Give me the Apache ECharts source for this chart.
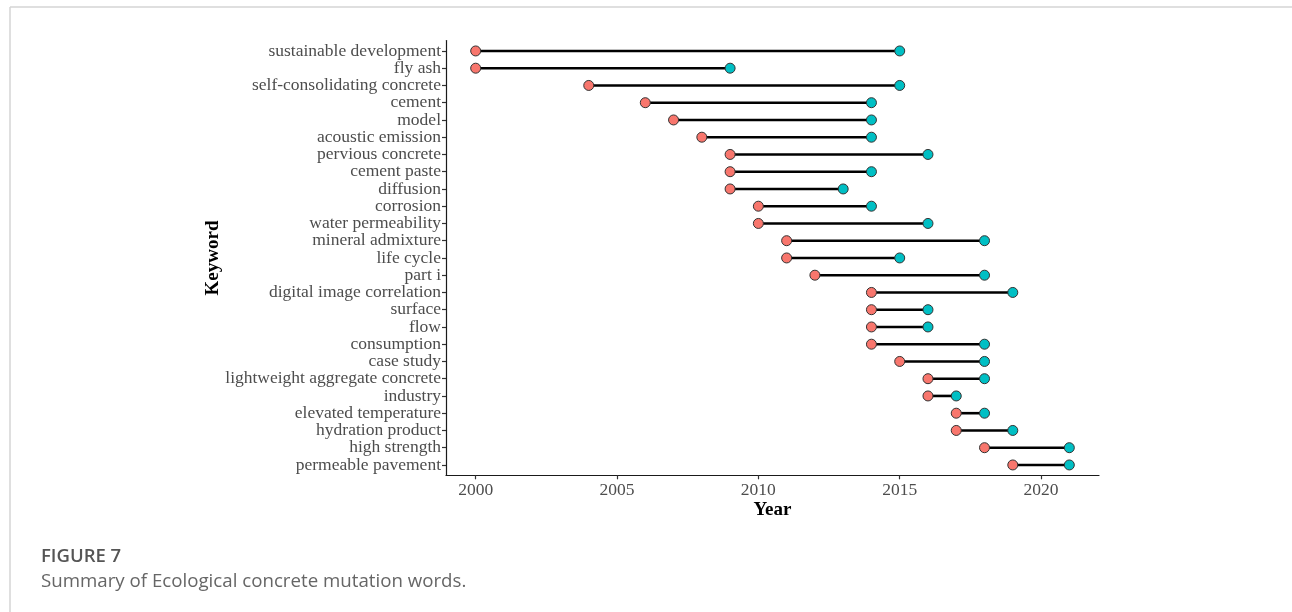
<!DOCTYPE html>
<html>
<head>
<meta charset="utf-8">
<title>Keyword burst periods</title>
<script src="https://cdn.jsdelivr.net/npm/echarts@6/dist/echarts.min.js"></script>
<style>
  html, body { margin: 0; padding: 0; background: #ffffff; }
  #chart { width: 1292px; height: 612px; }
</style>
</head>
<body>
<div id="chart"></div>
<script>
// Keywords, top to bottom
const keywords = [
  'sustainable development', 'fly ash', 'self-consolidating concrete', 'cement',
  'model', 'acoustic emission', 'pervious concrete', 'cement paste', 'diffusion',
  'corrosion', 'water permeability', 'mineral admixture', 'life cycle', 'part i',
  'digital image correlation', 'surface', 'flow', 'consumption', 'case study',
  'lightweight aggregate concrete', 'industry', 'elevated temperature',
  'hydration product', 'high strength', 'permeable pavement'
];
// First year of each burst
const beginYear = [2000, 2000, 2004, 2006, 2007, 2008, 2009, 2009, 2009, 2010, 2010, 2011, 2011,
                   2012, 2014, 2014, 2014, 2014, 2015, 2016, 2016, 2017, 2017, 2018, 2019];
// Last year of each burst
const endYear = [2015, 2009, 2015, 2014, 2014, 2014, 2016, 2014, 2013, 2014, 2016, 2018, 2015,
                 2018, 2019, 2016, 2016, 2018, 2018, 2018, 2017, 2018, 2019, 2021, 2021];
// Year ticks
const yearTicks = [2000, 2005, 2010, 2015, 2020];

const rowIdx = keywords.map((_, i) => i);
const segData = keywords.map((_, i) => [beginYear[i], endYear[i], i]);
const beginData = keywords.map((_, i) => [beginYear[i], i]);
const endData = keywords.map((_, i) => [endYear[i], i]);

const serif = '"Liberation Serif", "Times New Roman", serif';
const sans = '"Open Sans", "Noto Sans", sans-serif';

// Plot panel: rows padded by 0.6 of a row at both ends
const panelTop = 40.6, panelHeight = 434.7;
const rowStep = panelHeight / 25.2;

const chart = echarts.init(document.getElementById('chart'));
chart.setOption({
  animation: false,
  backgroundColor: '#ffffff',
  grid: [
    { left: 446, width: 653, top: panelTop, height: panelHeight, containLabel: false },
    // label band: one full row per keyword, centred on the rows above
    { left: 446, width: 653, top: panelTop + 0.1 * rowStep, height: 25 * rowStep, containLabel: false }
  ],
  xAxis: [
    {
      type: 'value',
      gridIndex: 0,
      min: 1998.95,
      max: 2022.05,
      name: 'Year',
      nameLocation: 'middle',
      nameGap: 25,
      nameMoveOverlap: false,
      nameTextStyle: { fontFamily: serif, fontWeight: 'bold', fontSize: 19, color: '#000' },
      axisLine: { show: true, onZero: false, lineStyle: { color: '#1a1a1a', width: 1.2 } },
      axisTick: { show: true, length: 4, customValues: yearTicks, lineStyle: { color: '#333', width: 1.2 } },
      axisLabel: {
        customValues: yearTicks, fontFamily: serif, fontSize: 17.5, color: '#4d4d4d', margin: 6,
        formatter: v => String(Math.round(v))
      },
      splitLine: { show: false }
    },
    {
      type: 'value', gridIndex: 1, min: 1998.95, max: 2022.05, show: false
    }
  ],
  yAxis: [
    {
      type: 'value',
      gridIndex: 0,
      inverse: true,
      min: -0.6,
      max: 24.6,
      name: 'Keyword',
      nameLocation: 'middle',
      nameGap: 223,
      nameMoveOverlap: false,
      nameRotate: 90,
      nameTextStyle: { fontFamily: serif, fontWeight: 'bold', fontSize: 19, color: '#000' },
      axisLine: { show: true, onZero: false, lineStyle: { color: '#1a1a1a', width: 1.2 } },
      axisTick: { show: true, length: 4, customValues: rowIdx, lineStyle: { color: '#333', width: 1.2 } },
      axisLabel: { show: false },
      splitLine: { show: false }
    },
    {
      type: 'category',
      gridIndex: 1,
      inverse: true,
      data: keywords,
      axisLine: { show: false },
      axisTick: { show: false },
      axisLabel: {
        interval: 0, fontFamily: serif, fontSize: 17.5, color: '#4d4d4d', margin: 5
      },
      splitLine: { show: false }
    }
  ],
  series: [
    {
      type: 'custom',
      xAxisIndex: 0, yAxisIndex: 0,
      data: segData,
      encode: { x: [0, 1], y: 2 },
      renderItem: (params, api) => {
        const a = api.coord([api.value(0), api.value(2)]);
        const b = api.coord([api.value(1), api.value(2)]);
        return {
          type: 'line',
          shape: { x1: a[0], y1: a[1], x2: b[0], y2: b[1] },
          style: { stroke: '#000000', lineWidth: 2.6 }
        };
      },
      z: 1
    },
    {
      type: 'scatter',
      xAxisIndex: 0, yAxisIndex: 0,
      data: beginData,
      symbol: 'circle',
      symbolSize: 10,
      itemStyle: { color: '#F8766D', borderColor: '#333333', borderWidth: 1, opacity: 1 },
      z: 2
    },
    {
      type: 'scatter',
      xAxisIndex: 0, yAxisIndex: 0,
      data: endData,
      symbol: 'circle',
      symbolSize: 10,
      itemStyle: { color: '#00BFC4', borderColor: '#333333', borderWidth: 1, opacity: 1 },
      z: 2
    }
  ],
  graphic: [
    { type: 'line', shape: { x1: 10, y1: 7, x2: 1292, y2: 7 }, style: { stroke: '#d4d4d4', lineWidth: 1.5 } },
    { type: 'line', shape: { x1: 10, y1: 7, x2: 10, y2: 612 }, style: { stroke: '#d4d4d4', lineWidth: 1.5 } },
    {
      type: 'text', x: 41, y: 556.5,
      style: { text: 'FIGURE 7', fontFamily: sans, fontWeight: 600, fontSize: 18.5, fill: '#555555', verticalAlign: 'middle' }
    },
    {
      type: 'text', x: 41, y: 582,
      style: { text: 'Summary of Ecological concrete mutation words.', fontFamily: sans, fontSize: 18.7, fill: '#666666', verticalAlign: 'middle' }
    }
  ]
});
</script>
</body>
</html>
